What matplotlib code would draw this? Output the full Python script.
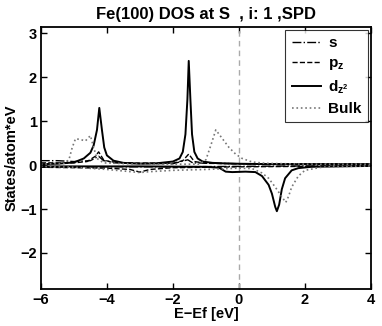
import numpy as np
import matplotlib
matplotlib.use('Agg')
from matplotlib import pyplot as plt

plt.rcParams['font.family'] = ['Liberation Sans', 'DejaVu Sans']
plt.rcParams['font.weight'] = 'bold'
plt.rcParams['mathtext.fontset'] = 'custom'
plt.rcParams['mathtext.bf'] = 'Liberation Sans:bold'
plt.rcParams['mathtext.rm'] = 'Liberation Sans:bold'

# d_z2, spin up / spin down
dz2_up_e = [-6.0, -5.5, -5.0, -4.7, -4.5, -4.4, -4.3, -4.23, -4.15, -4.08, -4.0, -3.8, -3.5,
            -3.0, -2.5, -2.0, -1.8, -1.7, -1.62, -1.56, -1.52, -1.47, -1.42, -1.35, -1.25,
            -1.1, -0.8, -0.5, 0.0, 1.0, 2.0, 4.0]
dz2_up_v = [0.02, 0.03, 0.06, 0.15, 0.28, 0.45, 0.8, 1.3, 0.8, 0.4, 0.22, 0.1, 0.05,
            0.03, 0.04, 0.08, 0.15, 0.3, 0.7, 1.5, 2.37, 1.5, 0.7, 0.3, 0.15,
            0.08, 0.05, 0.04, 0.03, 0.02, 0.02, 0.02]
dz2_dn_e = [-6.0, -3.0, -1.0, -0.6, -0.4, -0.2, 0.2, 0.5, 0.7, 0.9, 1.0, 1.1, 1.15,
            1.22, 1.3, 1.4, 1.6, 1.8, 2.2, 4.0]
dz2_dn_v = [-0.03, -0.03, -0.04, -0.06, -0.15, -0.16, -0.15, -0.16, -0.25, -0.45, -0.65,
            -0.95, -1.05, -0.9, -0.55, -0.3, -0.12, -0.07, -0.04, -0.02]

# bulk, spin up / spin down
bulk_up_e = [-6.0, -5.3, -5.15, -5.05, -4.95, -4.8, -4.65, -4.5, -4.4, -4.3, -4.1, -3.0,
             -1.2, -1.0, -0.85, -0.7, -0.5, -0.3, -0.1, 0.1, 0.4, 0.8, 2.0, 4.0]
bulk_up_v = [0.02, 0.04, 0.12, 0.4, 0.6, 0.58, 0.55, 0.67, 0.4, 0.15, 0.05, 0.02,
             0.02, 0.12, 0.45, 0.8, 0.6, 0.4, 0.25, 0.15, 0.07, 0.04, 0.02, 0.02]
bulk_dn_e = [-6.0, -5.0, -4.0, -3.0, -2.7, -2.0, -1.0, 0.0, 0.4, 0.7, 0.9, 1.1, 1.3,
             1.42, 1.5, 1.6, 1.8, 2.0, 2.5, 3.0, 4.0]
bulk_dn_v = [-0.03, -0.05, -0.1, -0.17, -0.15, -0.12, -0.1, -0.07, -0.08, -0.18, -0.3,
             -0.5, -0.72, -0.85, -0.72, -0.5, -0.25, -0.12, -0.05, -0.03, -0.02]

# s, spin up / spin down
s_up_e = [-6.0, -5.5, -5.0, -4.5, -4.25, -4.1, -3.5, -2.0, -1.55, -1.4, 0.0, 4.0]
s_up_v = [0.1, 0.1, 0.08, 0.1, 0.2, 0.1, 0.04, 0.03, 0.12, 0.05, 0.03, 0.02]
s_dn_e = [-6.0, -4.0, -2.0, 0.0, 2.0, 4.0]
s_dn_v = [-0.05, -0.04, -0.04, -0.03, -0.02, -0.02]

# p_z, spin up / spin down
pz_up_e = [-6.0, -5.0, -4.6, -4.35, -4.25, -4.1, -3.8, -2.0, -1.7, -1.52, -1.35, -1.0, 0.0, 4.0]
pz_up_v = [0.05, 0.05, 0.08, 0.2, 0.3, 0.12, 0.05, 0.04, 0.1, 0.25, 0.08, 0.04, 0.03, 0.02]
pz_dn_e = [-6.0, -4.0, -3.3, -3.0, -2.7, -2.0, 0.0, 4.0]
pz_dn_v = [-0.05, -0.07, -0.1, -0.16, -0.1, -0.06, -0.04, -0.02]

fig = plt.figure(figsize=(3.82, 3.26), dpi=100)
ax = fig.add_axes([0.107, 0.1135, 0.864, 0.8035])

ax.axvline(0, color='#aaaaaa', ls='--', lw=1.0, dashes=(4, 3))

l_s, = ax.plot(s_up_e, s_up_v, c='k', ls='-.', lw=1.0)
ax.plot(s_dn_e, s_dn_v, c='k', ls='-.', lw=1.0)
l_p, = ax.plot(pz_up_e, pz_up_v, c='k', ls='--', lw=1.0)
ax.plot(pz_dn_e, pz_dn_v, c='k', ls='--', lw=1.0)
l_d, = ax.plot(dz2_up_e, dz2_up_v, c='k', ls='-', lw=1.4)
ax.plot(dz2_dn_e, dz2_dn_v, c='k', ls='-', lw=1.4)
l_b, = ax.plot(bulk_up_e, bulk_up_v, c='#777777', ls=':', lw=1.2)
ax.plot(bulk_dn_e, bulk_dn_v, c='#777777', ls=':', lw=1.2)

ax.set_xlim(-6, 4)
ax.set_ylim(-2.82, 3.14)
ax.set_xticks([-6, -4, -2, 0, 2, 4])
ax.set_yticks([-2, -1, 0, 1, 2, 3])
ax.set_xticklabels(['\u22126', '\u22124', '\u22122', '0', '2', '4'])
ax.set_yticklabels(['\u22122', '\u22121', '0', '1', '2', '3'])
ax.tick_params(direction='in', top=True, right=True, length=4, width=1,
               labelsize=10.5, pad=3)
for sp in ax.spines.values():
    sp.set_linewidth(1.3)

ax.set_xlabel('E\u2212Ef [eV]', fontsize=10.5, fontweight='bold', labelpad=0)
ax.set_ylabel('States/atom*eV', fontsize=10.5, fontweight='bold', labelpad=1)
ax.set_title('Fe(100) DOS at S  , i: 1 ,SPD', fontsize=12, fontweight='bold', pad=6)

leg = ax.legend([l_s, l_p, l_d, l_b], ['s', r'p$_\mathbf{z}$', r'd$_{\mathbf{z}^\mathbf{2}}$', 'Bulk'],
                loc='upper right', fontsize=11, frameon=True, fancybox=False,
                edgecolor='k', handlelength=1.9, borderaxespad=0.2,
                labelspacing=0.4, handletextpad=0.5, borderpad=0.4)
leg.get_frame().set_linewidth(0.8)

fig.savefig('out.png', dpi=100)
